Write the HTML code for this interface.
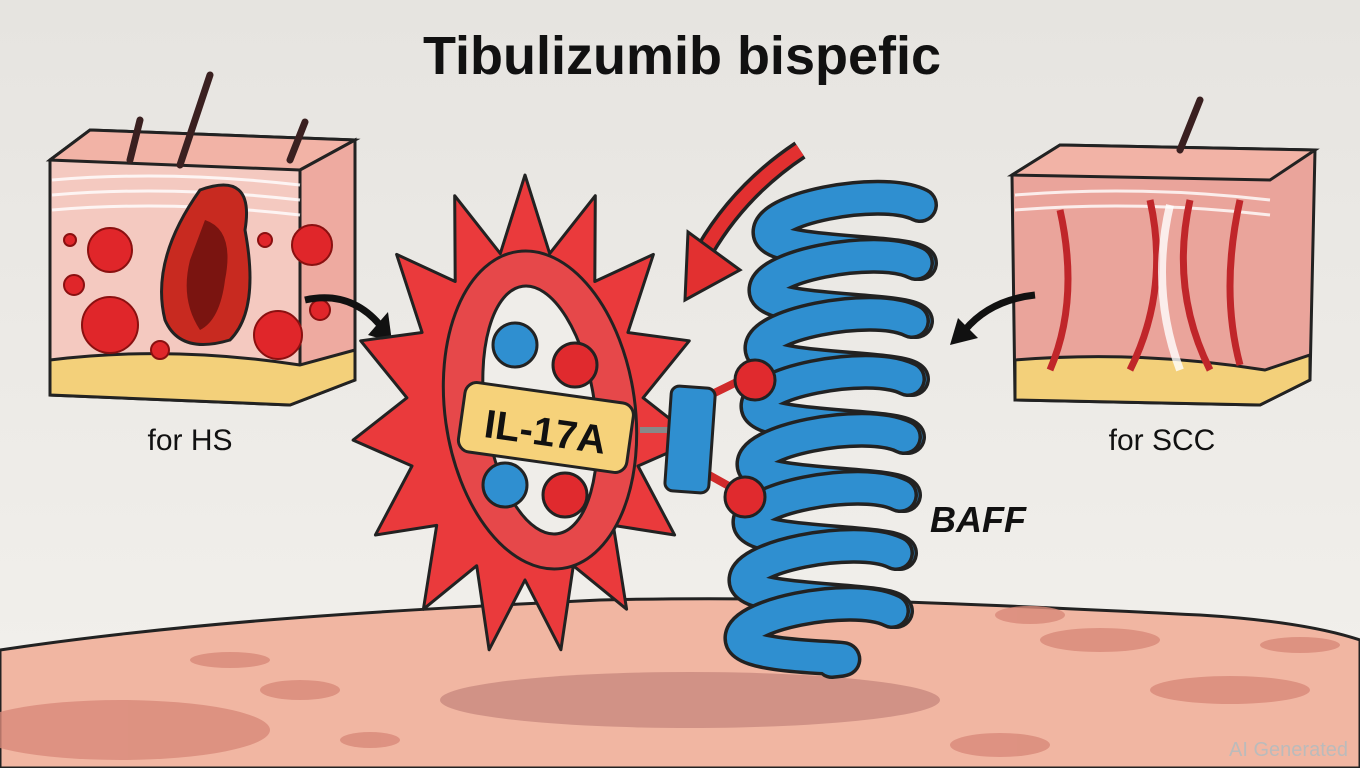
<!DOCTYPE html>
<html><head><meta charset="utf-8"><style>
html,body{margin:0;padding:0;width:1360px;height:768px;overflow:hidden;background:#ecebe7}
svg{display:block}
text{font-family:"Liberation Sans","DejaVu Sans",sans-serif}
</style></head><body>
<svg id="s" width="1360" height="768" viewBox="0 0 1360 768" xmlns="http://www.w3.org/2000/svg">
<defs>
<linearGradient id="bg" x1="0" y1="0" x2="0" y2="1"><stop offset="0" stop-color="#e6e4e0"/><stop offset="1" stop-color="#f3f1ed"/></linearGradient>
</defs>
<rect width="1360" height="768" fill="url(#bg)"/>
<!-- ground -->
<path d="M0 650 C200 620 400 610 600 600 C800 595 1000 605 1200 615 C1280 620 1330 630 1360 640 L1360 768 L0 768Z" fill="#f1b6a2" stroke="#222" stroke-width="3"/>
<g fill="#d98a7a" opacity="0.8">
<ellipse cx="120" cy="730" rx="150" ry="30"/><ellipse cx="300" cy="690" rx="40" ry="10"/><ellipse cx="1100" cy="640" rx="60" ry="12"/>
<ellipse cx="1230" cy="690" rx="80" ry="14"/><ellipse cx="1000" cy="745" rx="50" ry="12"/><ellipse cx="370" cy="740" rx="30" ry="8"/>
<ellipse cx="1030" cy="615" rx="35" ry="9"/><ellipse cx="230" cy="660" rx="40" ry="8"/><ellipse cx="1300" cy="645" rx="40" ry="8"/>
</g>
<ellipse cx="690" cy="700" rx="250" ry="28" fill="#c98a80" opacity="0.8"/>
<text x="682" y="74" text-anchor="middle" font-size="54" font-weight="bold" fill="#111">Tibulizumib bispefic</text>
<!-- left skin block -->
<g stroke="#222" stroke-width="3">
<path d="M50 160 L90 130 L355 140 L355 380 L290 405 L50 395Z" fill="#f4c9c0"/>
<path d="M50 160 L90 130 L355 140 L300 170Z" fill="#f2b3a6"/>
<path d="M300 170 L355 140 L355 380 L300 400Z" fill="#eeaaa0"/>
<path d="M50 360 Q170 345 300 365 L355 350 L355 380 L290 405 L50 395Z" fill="#f3d07a"/>
</g>
<path d="M52 180 Q170 170 300 185 M52 195 Q170 185 300 200 M52 210 Q170 200 300 215" stroke="#fff" stroke-width="3" fill="none" opacity="0.8"/>
<path d="M200 190 Q255 170 245 230 Q260 310 230 340 Q180 355 165 320 Q150 260 200 190Z" fill="#c82a20" stroke="#222" stroke-width="3"/>
<path d="M205 220 Q235 230 225 280 Q220 320 200 330 Q180 300 190 260Z" fill="#7a1410"/>
<g fill="#e0262a" stroke="#8a1010" stroke-width="2">
<circle cx="110" cy="250" r="22"/><circle cx="110" cy="325" r="28"/><circle cx="312" cy="245" r="20"/><circle cx="278" cy="335" r="24"/>
<circle cx="74" cy="285" r="10"/><circle cx="160" cy="350" r="9"/><circle cx="70" cy="240" r="6"/><circle cx="265" cy="240" r="7"/><circle cx="320" cy="310" r="10"/>
</g>
<path d="M130 160 L140 120 M180 165 L210 75 M290 160 L305 122" stroke="#3a2020" stroke-width="7" stroke-linecap="round"/>
<text x="190" y="450" text-anchor="middle" font-size="30" fill="#111">for HS</text>
<!-- right skin block -->
<g stroke="#222" stroke-width="3">
<path d="M1012 175 L1060 145 L1315 150 L1310 380 L1260 405 L1015 400Z" fill="#eaa49b"/>
<path d="M1012 175 L1060 145 L1315 150 L1270 180Z" fill="#f2b3a6"/>
<path d="M1015 360 Q1140 350 1265 370 L1310 355 L1310 380 L1260 405 L1015 400Z" fill="#f3d07a"/>
</g>
<path d="M1015 195 Q1140 185 1270 200 M1015 210 Q1140 200 1270 215" stroke="#fff" stroke-width="3" fill="none" opacity="0.8"/>
<path d="M1060 210 Q1080 300 1050 370 M1150 200 Q1170 290 1130 370 M1190 200 Q1170 290 1210 370 M1240 200 Q1220 290 1240 365" stroke="#c0262a" stroke-width="7" fill="none"/>
<path d="M1170 205 Q1150 290 1180 370" stroke="#fff" stroke-width="8" fill="none" opacity="0.8"/>
<path d="M1180 150 L1200 100" stroke="#3a2020" stroke-width="7" stroke-linecap="round"/>
<text x="1162" y="450" text-anchor="middle" font-size="30" fill="#111">for SCC</text>
<!-- black arrows -->
<path d="M305 300 Q350 290 380 325" stroke="#111" stroke-width="7" fill="none"/>
<path d="M368 335 L392 342 L388 312Z" fill="#111"/>
<path d="M1035 295 Q990 300 965 330" stroke="#111" stroke-width="7" fill="none"/>
<path d="M950 345 L978 338 L958 318Z" fill="#111"/>
<!-- red arrow -->
<path d="M800 150 Q740 190 705 250" stroke="#222" stroke-width="20" fill="none"/>
<path d="M800 150 Q740 190 705 250" stroke="#e23030" stroke-width="13" fill="none"/>
<path d="M688 232 L685 300 L740 270Z" fill="#e23030" stroke="#222" stroke-width="3"/>
<g id="star"></g>
<g id="spiral"></g>
<!-- connector -->
<path d="M640 430 L680 430" stroke="#888" stroke-width="6"/>
<path d="M700 400 L745 378 M700 470 L745 495" stroke="#d02a2a" stroke-width="8"/>
<circle cx="755" cy="380" r="20" fill="#e02a2e" stroke="#222" stroke-width="3"/>
<circle cx="745" cy="497" r="20" fill="#e02a2e" stroke="#222" stroke-width="3"/>
<rect x="668" y="387" width="44" height="105" rx="8" fill="#2f8fd0" stroke="#222" stroke-width="3" transform="rotate(4 690 440)"/>
<g transform="rotate(8 550 420)">
<rect x="462" y="393" width="170" height="70" rx="12" fill="#f6d27a" stroke="#222" stroke-width="3"/>
<text x="547" y="446" text-anchor="middle" font-size="40" font-weight="bold" fill="#111">IL-17A</text>
</g>
<text x="930" y="532" font-size="36" font-weight="bold" font-style="italic" fill="#111">BAFF</text>
<text x="1348" y="756" text-anchor="end" font-size="20" fill="#bbb">AI Generated</text>
</svg>
<script>
var NS="http://www.w3.org/2000/svg";
function el(t,a,p){var e=document.createElementNS(NS,t);for(var k in a)e.setAttribute(k,a[k]);p.appendChild(e);return e;}
var g=document.getElementById("star"),pts=[],cx=525,cy=415,n=15;
for(var i=0;i<n*2;i++){var a=-Math.PI/2+i*Math.PI/n,r=i%2?165:240;pts.push((cx+r*Math.cos(a)*0.72).toFixed(1)+","+(cy+r*Math.sin(a)).toFixed(1));}
el("polygon",{points:pts.join(" "),fill:"#ea3a3c",stroke:"#222","stroke-width":3,"stroke-linejoin":"round"},g);
el("ellipse",{cx:540,cy:410,rx:95,ry:160,fill:"#e6484a",stroke:"#222","stroke-width":3,transform:"rotate(-8 540 410)"},g);
el("ellipse",{cx:540,cy:410,rx:55,ry:125,fill:"#efede9",stroke:"#222","stroke-width":3,transform:"rotate(-8 540 410)"},g);
[[515,345,"#2f8fd0"],[575,365,"#e02a2e"],[505,485,"#2f8fd0"],[565,495,"#e02a2e"]].forEach(function(c){el("circle",{cx:c[0],cy:c[1],r:22,fill:c[2],stroke:"#222","stroke-width":3},g);});
var s=document.getElementById("spiral");
for(var j=0;j<8;j++){var y=205+j*58,x=850-j*4;
var last=(j==7);
var d="M"+(x+70)+" "+y+" C"+(x+30)+" "+(y-20)+" "+(x-90)+" "+(y+5)+" "+(x-80)+" "+(y+30)+" C"+(x-70)+" "+(y+50)+" "+(x+60)+" "+(y+45)+" "+(last?(x+10)+" "+(y+50):(x+70)+" "+(y+58));
el("path",{d:d,stroke:"#222","stroke-width":36,fill:"none","stroke-linecap":"round"},s);
el("path",{d:d,stroke:"#2f8fd0","stroke-width":29,fill:"none","stroke-linecap":"round"},s);}
</script>
</body></html>
